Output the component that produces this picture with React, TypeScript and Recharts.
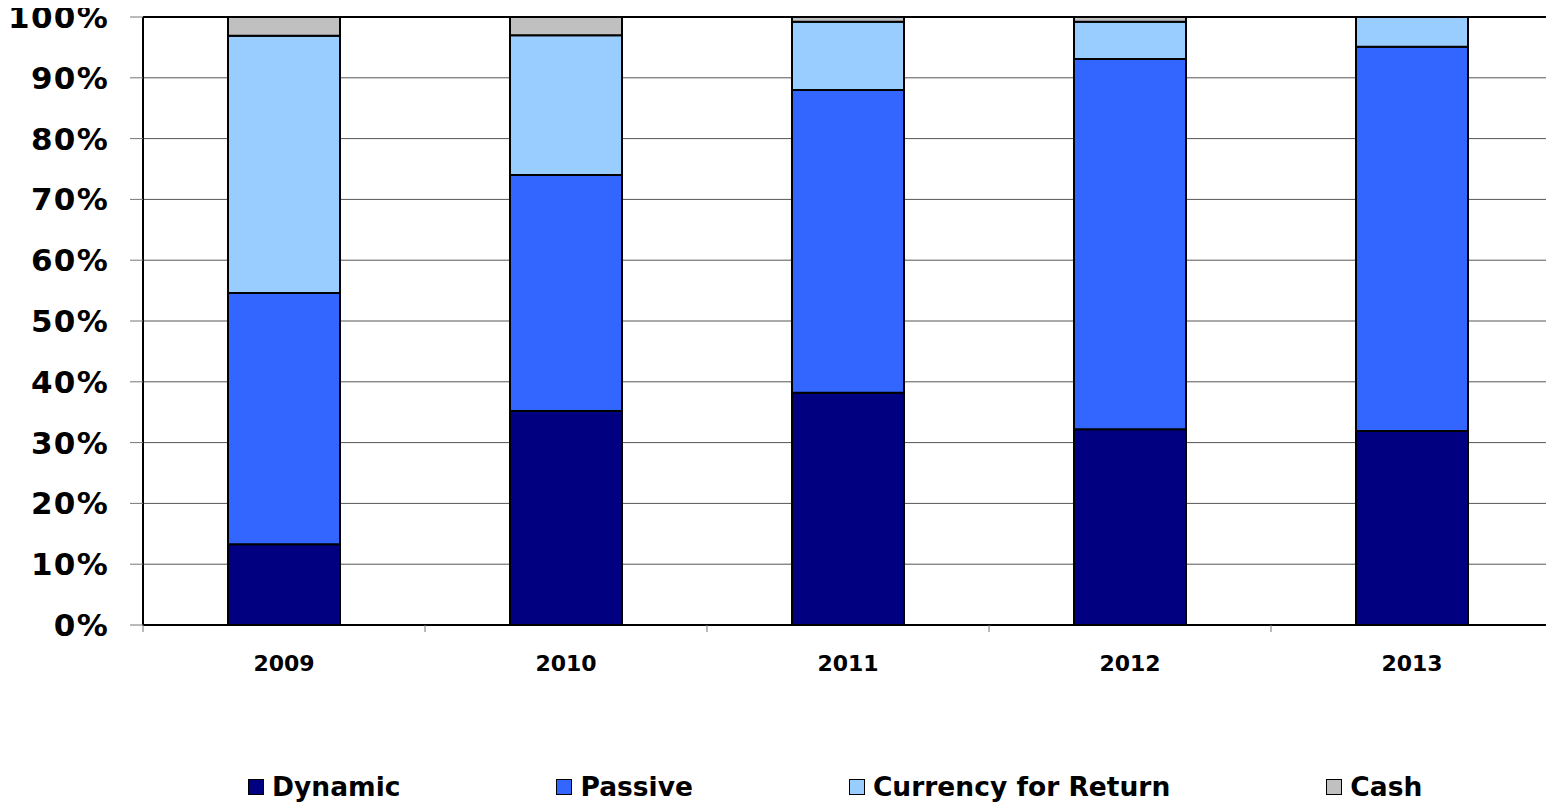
import React from 'react';
import { BarChart, Bar, XAxis, YAxis, CartesianGrid, Legend, ReferenceLine } from 'recharts';

const years = ['2009', '2010', '2011', '2012', '2013'];
const dynamic = [13.3, 35.2, 38.2, 32.2, 31.9];
const passive = [41.3, 38.8, 49.8, 60.9, 63.2];
const currency = [42.3, 23.0, 11.2, 6.1, 4.9];
const cash = [3.1, 3.0, 0.8, 0.8, 0];
const yTicks = [0, 10, 20, 30, 40, 50, 60, 70, 80, 90, 100];

const series = [
  { key: 'dynamic', name: 'Dynamic', color: '#000080' },
  { key: 'passive', name: 'Passive', color: '#3366FF' },
  { key: 'currency', name: 'Currency for Return', color: '#99CCFF' },
  { key: 'cash', name: 'Cash', color: '#C0C0C0' },
];

const data = years.map((year, i) => ({
  year,
  dynamic: dynamic[i],
  passive: passive[i],
  currency: currency[i],
  cash: cash[i],
}));

// label at the band centre, small tick marks at the band edges
const YearTick = (props: any) => {
  const { x, y, payload, index } = props;
  const half = payload.offset || 0;
  const last = index === years.length - 1;
  return (
    <g>
      <line x1={x - half} y1={y} x2={x - half} y2={y + 7} stroke="#777" strokeWidth={1} />
      {last && <line x1={x + half} y1={y} x2={x + half} y2={y + 7} stroke="#777" strokeWidth={1} />}
      <text x={x} y={y + 46} textAnchor="middle" fontSize={22} fontWeight="bold" fill="#000">
        {payload.value}
      </text>
    </g>
  );
};

const LegendContent = () => (
  <div style={{ display: 'flex', gap: 156, paddingLeft: 248, fontFamily: 'DejaVu Sans', fontWeight: 'bold' }}>
    {series.map((s) => (
      <div key={s.key} style={{ display: 'flex', alignItems: 'center', whiteSpace: 'nowrap' }}>
        <span
          style={{
            display: 'inline-block',
            boxSizing: 'border-box',
            width: 16,
            height: 16,
            background: s.color,
            border: '1.5px solid #000',
            marginRight: 8,
          }}
        />
        <span style={{ fontSize: 26.5, lineHeight: '30px', color: '#000' }}>{s.name}</span>
      </div>
    ))}
  </div>
);

export default function App() {
  // pull the chart into the body margin so the top label is not clipped
  return (
    <div style={{ width: 1554, height: 803, margin: '-8px 0 0 -8px', fontFamily: 'DejaVu Sans', position: 'relative' }}>
      <BarChart
        width={1554}
        height={803}
        data={data}
        barSize={112}
        margin={{ top: 17, right: 1, bottom: 118, left: 0 }}
      >
        <CartesianGrid horizontal vertical={false} stroke="#555" strokeWidth={1} />
        <XAxis
          dataKey="year"
          height={60}
          interval={0}
          tickSize={0}
          tickMargin={0}
          tickLine={false}
          axisLine={{ stroke: '#000', strokeWidth: 2 }}
          tick={<YearTick />}
        />
        <YAxis
          width={143}
          domain={[0, 100]}
          ticks={yTicks}
          interval={0}
          tickFormatter={(v: number) => `${v}%`}
          tickSize={13}
          tickMargin={21}
          tickLine={{ stroke: '#777' }}
          axisLine={{ stroke: '#000', strokeWidth: 2 }}
          tick={{ fontSize: 31, fontWeight: 'bold', fill: '#000', letterSpacing: 1.3 }}
        />
        <ReferenceLine y={100} stroke="#000" strokeWidth={2} />
        <ReferenceLine x="2013" position="end" stroke="#555" strokeWidth={1.5} />
        {series.map((s) => (
          <Bar
            key={s.key}
            dataKey={s.key}
            name={s.name}
            stackId="a"
            fill={s.color}
            stroke="#000"
            strokeWidth={2}
            isAnimationActive={false}
          />
        ))}
        <Legend
          layout="horizontal"
          verticalAlign="middle"
          align="center"
          content={<LegendContent />}
          wrapperStyle={{ position: 'absolute', top: 772, left: 0, width: 1554, right: 'auto', bottom: 'auto' }}
        />
      </BarChart>
    </div>
  );
}
